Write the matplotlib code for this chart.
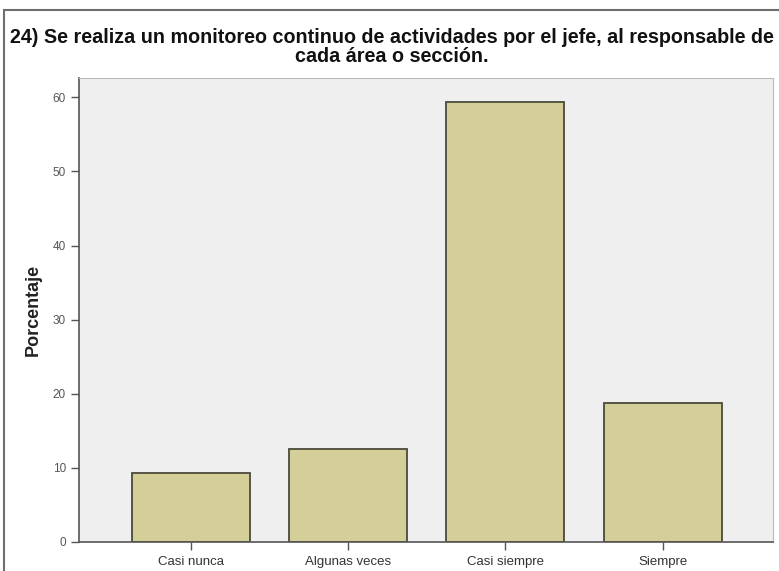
import matplotlib.pyplot as plt
from matplotlib.patches import Rectangle

categories = ["Casi nunca", "Algunas veces", "Casi siempre", "Siempre"]
porcentaje = [9.375, 12.5, 59.375, 18.75]
yticks = [0, 10, 20, 30, 40, 50, 60]

plt.rcParams['font.family'] = ['Liberation Sans', 'DejaVu Sans']

W, H = 779, 571
fig = plt.figure(figsize=(W / 100, H / 100), dpi=100)
fig.patch.set_facecolor('white')

# outer frame (cut at right and bottom like the screenshot)
fig.add_artist(Rectangle((4 / W, -0.05), 1.1, (H - 10) / H + 0.05,
                         transform=fig.transFigure, fill=False,
                         edgecolor='#6e6e6e', linewidth=1.5))

ax = fig.add_axes([79 / W, (H - 542) / H, (773 - 79) / W, (542 - 78) / H])
ax.set_facecolor('#efefef')

x = range(len(categories))
ax.bar(x, porcentaje, width=0.75, color='#d4cf98', edgecolor='#4a4a3a',
       linewidth=1.3)

ax.set_xlim(-0.71, 3.7)
ax.set_ylim(0, 62.6)
ax.set_xticks(list(x))
ax.set_xticklabels(categories, fontsize=9.5, color='#333333')
ax.set_yticks(yticks)
ax.set_yticklabels([str(v) for v in yticks], fontsize=8.5, color='#555555')
ax.tick_params(axis='both', length=6, color='#555555', width=1)
ax.tick_params(axis='x', pad=4)

for s in ['left', 'bottom']:
    ax.spines[s].set_color('#555555')
    ax.spines[s].set_linewidth(1.2)
for s in ['top', 'right']:
    ax.spines[s].set_color('#bbbbbb')
    ax.spines[s].set_linewidth(0.8)

ax.set_ylabel("Porcentaje", fontsize=13, fontweight='bold', color='#222222')
ax.yaxis.set_label_coords(-(79 - 42) / (773 - 79), 0.5)

fig.text(392 / W, 1 - 47 / H,
         "24) Se realiza un monitoreo continuo de actividades por el jefe, al responsable de\ncada área o sección.",
         ha='center', va='center', fontsize=14.2, fontweight='bold',
         linespacing=1.0, color='#111111')

fig.savefig("out.png", dpi=100)
